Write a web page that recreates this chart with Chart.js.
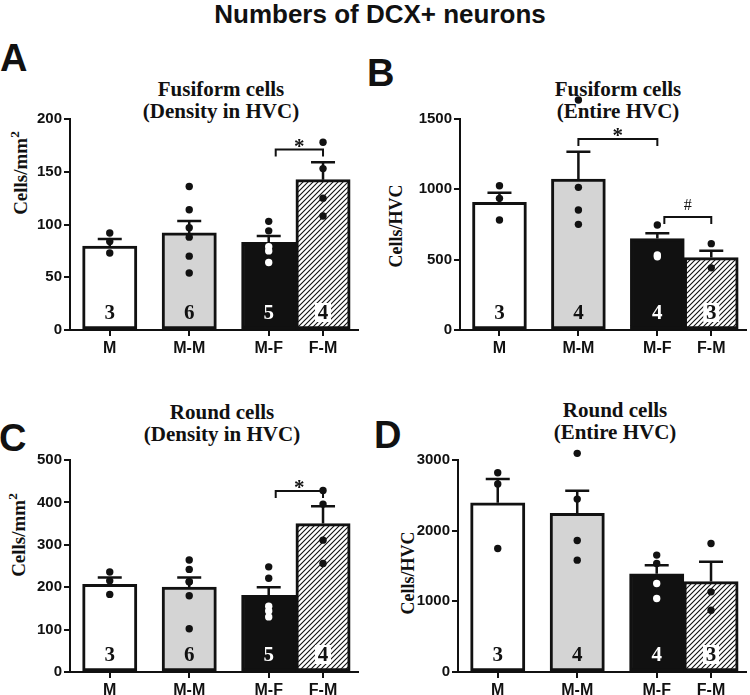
<!DOCTYPE html>
<html>
<head>
<meta charset="utf-8">
<script src="https://cdn.jsdelivr.net/npm/chart.js@4.4.1/dist/chart.umd.min.js"></script>
<style>
  body { margin: 0; background: #fff; }
  #fig { position: relative; width: 750px; height: 695px; overflow: hidden; background: #fff; }
  #fig canvas { position: absolute; }
  .main { position: absolute; left: 5px; width: 750px; top: -1px; text-align: center; font: bold 26px/30px "Liberation Sans", Arial, sans-serif; color: #111; }
  .letter { position: absolute; font: bold 38px/38px "Liberation Sans", Arial, sans-serif; color: #111; }
  .sub { position: absolute; width: 260px; text-align: center; font: bold 21px/22px "Liberation Serif", "Times New Roman", serif; color: #111; }
  .ytitle { position: absolute; white-space: nowrap; font: bold 18px/18px "Liberation Serif", "Times New Roman", serif; color: #111; transform: translate(-50%, -50%) rotate(-90deg); }
  .ytitle.big { font-size: 19px; }
  .ytitle sup { font-size: 0.7em; }
</style>
</head>
<body>
<div id="fig">
  <div class="main">Numbers of DCX+ neurons</div>

  <div class="letter" style="left:0px; top:39px;">A</div>
  <div class="letter" style="left:367px; top:54px;">B</div>
  <div class="letter" style="left:-1px; top:419px;">C</div>
  <div class="letter" style="left:374px; top:416px;">D</div>

  <div class="sub" style="left:91px; top:78px;">Fusiform cells<br>(Density in HVC)</div>
  <div class="sub" style="left:488px; top:78px;">Fusiform cells<br>(Entire HVC)</div>
  <div class="sub" style="left:92px; top:401px;">Round cells<br>(Density in HVC)</div>
  <div class="sub" style="left:485px; top:399px;">Round cells<br>(Entire HVC)</div>

  <div class="ytitle big" style="left:18px; top:173px;">Cells/mm<sup>2</sup></div>
  <div class="ytitle" style="left:396px; top:226px;">Cells/HVC</div>
  <div class="ytitle big" style="left:16px; top:535px;">Cells/mm<sup>2</sup></div>
  <div class="ytitle" style="left:408px; top:573px;">Cells/HVC</div>

  <canvas id="chartA" width="375" height="330" style="left:0px; top:40px;"></canvas>
  <canvas id="chartB" width="375" height="330" style="left:375px; top:40px;"></canvas>
  <canvas id="chartC" width="375" height="335" style="left:0px; top:360px;"></canvas>
  <canvas id="chartD" width="375" height="335" style="left:375px; top:360px;"></canvas>
</div>

<script>
// groups and where they sit on the x axis (M-F and F-M share an edge)
const groups = ["M", "M-M", "M-F", "F-M"];
const groupX = [1.5, 4.5, 7.5, 9.55];

// A - fusiform cells, density in HVC
const fusDensMean = [79.5, 92, 83, 142.5];
const fusDensSem = [6.8, 11.3, 6, 16.4];
const fusDensDots = [[92, 84, 73], [136, 114, 97, 88, 70, 54], [103, 94, 79, 75, 64], [178, 153, 125, 108]];
const fusDensN = [3, 6, 5, 4];
const fusDensTicks = [0, 50, 100, 150, 200];
const fusDensSig = [{ from: 2, to: 3, y: 171, mark: "*" }];

// B - fusiform cells, entire HVC
const fusTotMean = [908, 1073, 650, 515];
const fusTotSem = [68, 195, 37, 49];
const fusTotDots = [[1026, 936, 782], [1635, 1014, 853, 751], [746, 533, 521], [614, 442]];
const fusTotN = [3, 4, 4, 3];
const fusTotTicks = [0, 500, 1000, 1500];
const fusTotSig = [{ from: 1, to: 2, y: 1358, mark: "*" }, { from: 2, to: 3, y: 803, mark: "#" }];

// C - round cells, density in HVC
const rndDensMean = [207, 200, 181, 350];
const rndDensSem = [16, 23, 19, 41];
const rndDensDots = [[236, 215, 183], [264, 242, 213, 213, 180, 102], [248, 221, 155, 144, 130], [428, 396, 311, 256]];
const rndDensN = [3, 6, 5, 4];
const rndDensTicks = [0, 100, 200, 300, 400, 500];
const rndDensSig = [{ from: 2, to: 3, y: 427, mark: "*" }];

// D - round cells, entire HVC
const rndTotMean = [2395, 2244, 1390, 1280];
const rndTotSem = [336, 321, 122, 279];
const rndTotDots = [[2820, 2660, 1748], [3094, 2447, 1861, 1583], [1654, 1536, 1253, 1040], [1819, 1134, 874]];
const rndTotN = [3, 4, 4, 3];
const rndTotTicks = [0, 1000, 2000, 3000];
const rndTotSig = [];

const INK = "#111";
const DOT_R = 3.7;

function makeHatch() {
    const c = document.createElement("canvas");
    c.width = 5; c.height = 5;
    const g = c.getContext("2d");
    g.fillStyle = "#fff";
    g.fillRect(0, 0, 5, 5);
    g.strokeStyle = INK;
    g.lineWidth = 1.1;
    g.beginPath();
    g.moveTo(0, 5); g.lineTo(5, 0);
    g.moveTo(-1, 1); g.lineTo(1, -1);
    g.moveTo(4, 6); g.lineTo(6, 4);
    g.stroke();
    return g.createPattern(c, "repeat");
}

const hatch = makeHatch();
const barFills = ["#fff", "#d4d4d4", INK, hatch];
const nLabelStyle = ["dark", "dark", "light", "boxed"];

function drawPanel(id, mean, sem, dots, nums, ticks, sig, pad, xHeight) {
    const dotData = [];
    dots.forEach(function (list, g) {
        list.forEach(function (v) { dotData.push({ x: groupX[g], y: v, g: g }); });
    });

    // error bars, n labels, brackets, and dots that lie above the axis top
    const marks = {
        id: "marks",
        afterDatasetDraw(chart, args) {
            if (args.meta.type !== "bar") return;
            const ctx = chart.ctx;
            const xs = chart.scales.x, ys = chart.scales.y;
            ctx.save();
            ctx.strokeStyle = INK;
            ctx.lineWidth = 2.5;
            mean.forEach(function (m, i) {
                const cx = xs.getPixelForValue(groupX[i]);
                const y0 = ys.getPixelForValue(m);
                const y1 = ys.getPixelForValue(m + sem[i]);
                ctx.beginPath();
                ctx.moveTo(cx, y0); ctx.lineTo(cx, y1);
                ctx.moveTo(cx - 12, y1); ctx.lineTo(cx + 12, y1);
                ctx.stroke();
            });
            ctx.font = "bold 21px 'Liberation Serif'";
            ctx.textAlign = "center";
            ctx.textBaseline = "middle";
            const ny = chart.chartArea.bottom - 17;
            nums.forEach(function (n, i) {
                const cx = xs.getPixelForValue(groupX[i]);
                if (nLabelStyle[i] === "boxed") {
                    ctx.fillStyle = "#fff";
                    ctx.fillRect(cx - 8, ny - 10, 16, 19);
                }
                ctx.fillStyle = nLabelStyle[i] === "light" ? "#fff" : INK;
                ctx.fillText(String(n), cx, ny + 1);
            });
            ctx.restore();
        },
        afterDatasetsDraw(chart) {
            // Chart.js skips points outside the chart area; draw those ourselves
            const ctx = chart.ctx;
            const top = chart.chartArea.top;
            chart.getSortedVisibleDatasetMetas().forEach(function (meta) {
                if (meta.type !== "scatter") return;
                meta.data.forEach(function (pt) {
                    if (pt.y < top - DOT_R) {
                        ctx.save();
                        ctx.fillStyle = INK;
                        ctx.beginPath();
                        ctx.arc(pt.x, pt.y, DOT_R, 0, Math.PI * 2);
                        ctx.fill();
                        ctx.restore();
                    }
                });
            });
        },
        afterDraw(chart) {
            const ctx = chart.ctx;
            const xs = chart.scales.x, ys = chart.scales.y;
            ctx.save();
            ctx.strokeStyle = INK;
            ctx.fillStyle = INK;
            ctx.lineWidth = 2;
            ctx.textAlign = "center";
            sig.forEach(function (s) {
                const inset = (s.to - s.from === 1 && s.from === 2) ? 7 : 0;
                const x0 = xs.getPixelForValue(groupX[s.from]) + inset;
                const x1 = xs.getPixelForValue(groupX[s.to]);
                const yy = ys.getPixelForValue(s.y);
                ctx.beginPath();
                ctx.moveTo(x0, yy + 7); ctx.lineTo(x0, yy);
                ctx.lineTo(x1, yy); ctx.lineTo(x1, yy + 7);
                ctx.stroke();
                if (s.mark === "#") {
                    ctx.font = "16px 'Liberation Serif'";
                    ctx.fillText(s.mark, (x0 + x1) / 2, yy - 7);
                } else {
                    ctx.font = "bold 21px 'Liberation Serif'";
                    ctx.fillText(s.mark, (x0 + x1) / 2, yy + 3);
                }
            });
            ctx.restore();
        }
    };

    const axisFont = { family: "Liberation Sans", weight: "bold" };

    new Chart(document.getElementById(id), {
        type: "bar",
        data: {
            datasets: [{
                type: "bar",
                data: groupX.map(function (x, i) { return { x: x, y: mean[i] }; }),
                backgroundColor: barFills,
                borderColor: INK,
                borderWidth: 3,
                borderSkipped: false,
                barPercentage: 1,
                categoryPercentage: 1,
                order: 2
            }, {
                type: "scatter",
                data: dotData,
                pointRadius: DOT_R,
                pointBorderWidth: 0,
                pointBackgroundColor: function (c) {
                    const d = c.raw;
                    return (d && barFills[d.g] === INK && d.y < mean[d.g]) ? "#fff" : INK;
                },
                clip: false,
                order: 1
            }]
        },
        options: {
            responsive: false,
            animation: false,
            events: [],
            layout: { padding: pad },
            plugins: { legend: { display: false }, tooltip: { enabled: false } },
            scales: {
                x: {
                    type: "linear",
                    min: 0,
                    max: 10.87,
                    offset: false,
                    afterBuildTicks: function (s) { s.ticks = groupX.map(function (v) { return { value: v }; }); },
                    afterFit: function (s) { s.height = xHeight; },
                    ticks: {
                        autoSkip: false,
                        maxRotation: 0,
                        padding: 3,
                        color: INK,
                        font: Object.assign({ size: 16 }, axisFont),
                        callback: function (v, i) { return groups[i]; }
                    },
                    grid: { offset: false, drawOnChartArea: false, tickLength: 6, color: INK, lineWidth: 2 },
                    border: { display: true, color: INK, width: 2 }
                },
                y: {
                    min: ticks[0],
                    max: ticks[ticks.length - 1],
                    afterFit: function (s) { s.width = 50; },
                    ticks: {
                        stepSize: ticks[1] - ticks[0],
                        padding: 2,
                        color: INK,
                        font: Object.assign({ size: 15 }, axisFont),
                        callback: function (v) { return String(v); }
                    },
                    grid: { drawOnChartArea: false, tickLength: 6, color: INK, lineWidth: 2 },
                    border: { display: true, color: INK, width: 2 }
                }
            }
        },
        plugins: [marks]
    });
}

drawPanel("chartA", fusDensMean, fusDensSem, fusDensDots, fusDensN, fusDensTicks, fusDensSig,
    { top: 79, left: 20, right: 17, bottom: 10 }, 30);
drawPanel("chartB", fusTotMean, fusTotSem, fusTotDots, fusTotN, fusTotTicks, fusTotSig,
    { top: 79, left: 35, right: 3, bottom: 10 }, 30);
drawPanel("chartC", rndDensMean, rndDensSem, rndDensDots, rndDensN, rndDensTicks, rndDensSig,
    { top: 100, left: 20, right: 17, bottom: 0 }, 23);
drawPanel("chartD", rndTotMean, rndTotSem, rndTotDots, rndTotN, rndTotTicks, rndTotSig,
    { top: 100, left: 33, right: 3, bottom: 0 }, 23);
</script>
</body>
</html>
